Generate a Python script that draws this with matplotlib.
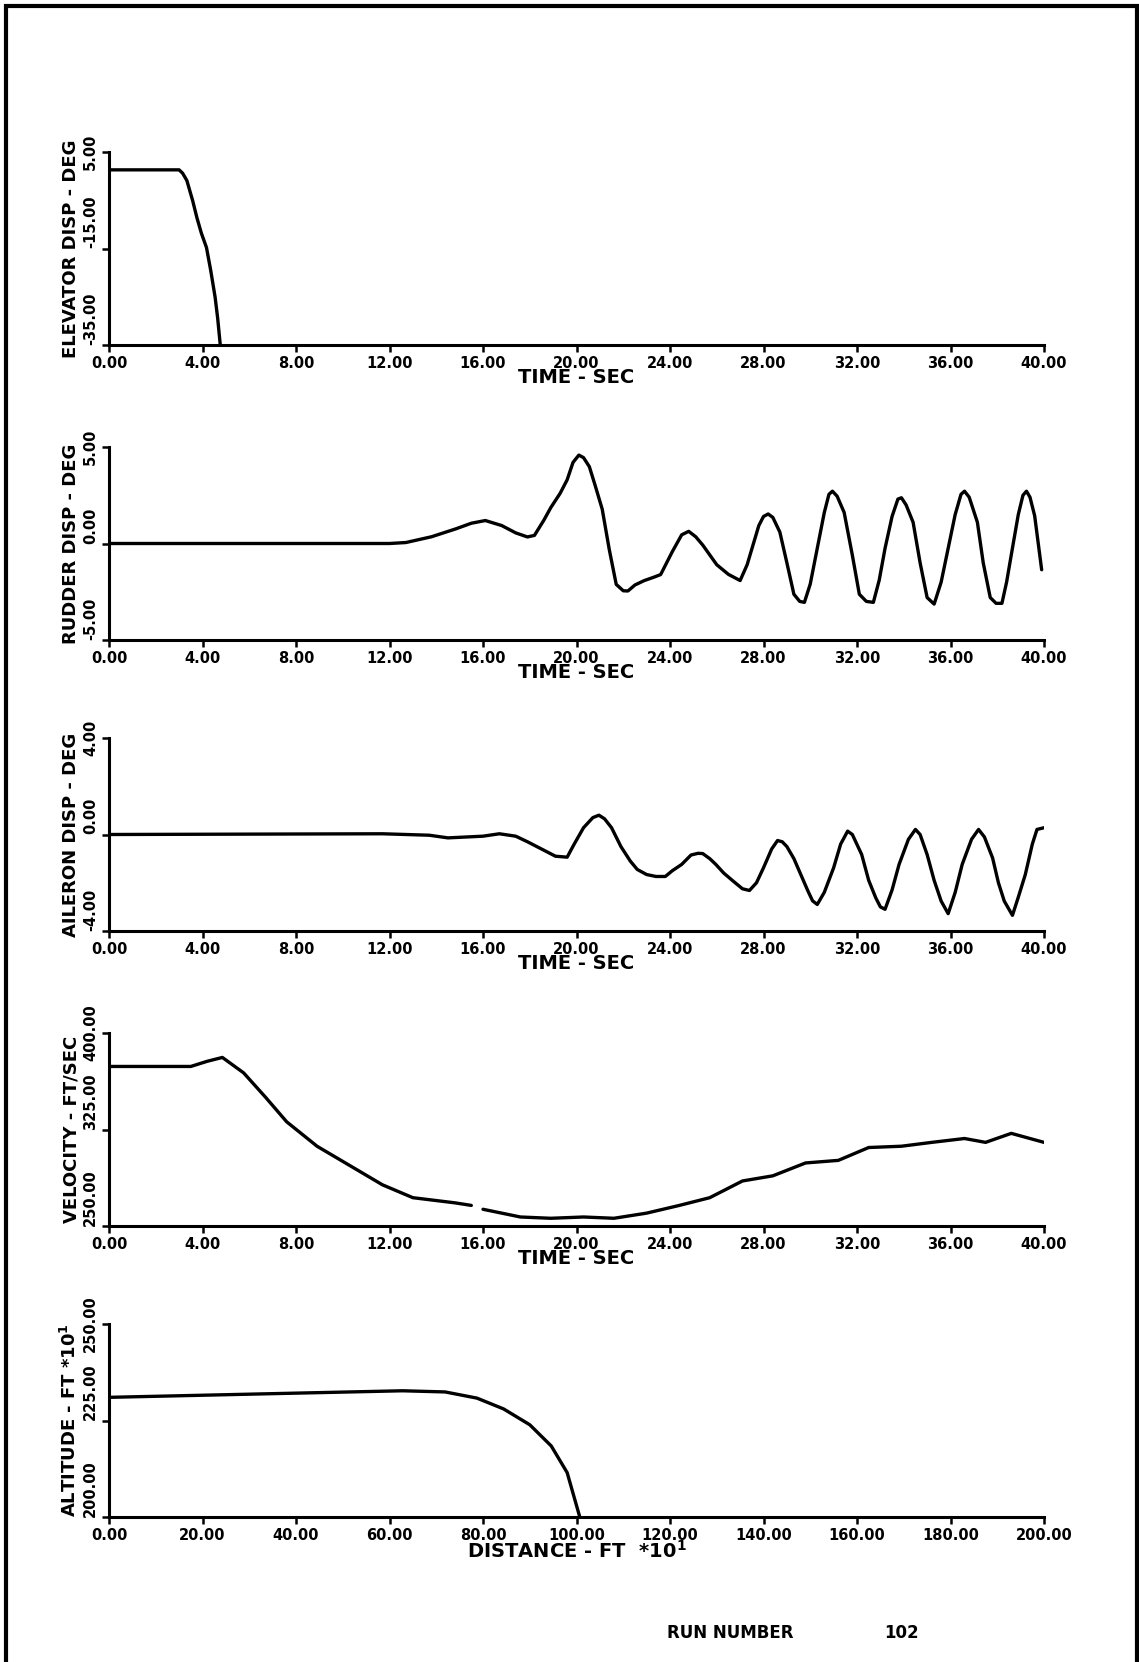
import matplotlib
matplotlib.use("Agg")
import matplotlib.pyplot as plt
import matplotlib.transforms as mtransforms
from matplotlib.patches import Rectangle
import numpy as np

# elevator deflection vs time
elev_t = [0.0, 3.0, 3.15, 3.33, 3.58, 3.76, 3.95, 4.17, 4.35, 4.54, 4.65, 4.76]
elev_y = [1.3, 1.3, 0.6, -0.9, -5.1, -8.6, -11.8, -14.8, -19.5, -25.1, -29.5, -35.0]

# rudder deflection vs time
rud_t = [0.0, 12.0, 12.7, 13.8, 14.84, 15.5, 16.1, 16.8, 17.4, 17.9, 18.2, 18.6, 18.9, 19.3,
         19.6, 19.85, 20.1, 20.3, 20.55, 20.8, 21.1, 21.4, 21.7, 22.0, 22.2, 22.5, 22.9, 23.3,
         23.6, 24.1, 24.5, 24.8, 25.1, 25.4, 26.0, 26.5, 27.0, 27.3, 27.8, 28.0, 28.2, 28.4,
         28.7, 29.0, 29.3, 29.55, 29.75, 30.0, 30.3, 30.6, 30.8, 30.95, 31.15, 31.45, 31.8, 32.1,
         32.4, 32.7, 32.95, 33.2, 33.5, 33.75, 33.9, 34.1, 34.4, 34.7, 35.0, 35.3, 35.6, 35.9,
         36.2, 36.45, 36.6, 36.8, 37.15, 37.4, 37.7, 37.95, 38.2, 38.4, 38.6, 38.9, 39.1, 39.25,
         39.4, 39.6, 39.9]
rud_y = [0.0, 0.0, 0.05, 0.35, 0.76, 1.05, 1.19, 0.93, 0.55, 0.34, 0.42, 1.2, 1.86, 2.6,
         3.3, 4.2, 4.58, 4.45, 3.98, 3.0, 1.78, -0.3, -2.12, -2.45, -2.46, -2.15, -1.92, -1.75,
         -1.61, -0.42, 0.45, 0.63, 0.35, -0.08, -1.10, -1.6, -1.92, -1.10, 0.93, 1.4, 1.53, 1.35,
         0.59, -1.0, -2.63, -3.0, -3.05, -2.1, -0.25, 1.6, 2.55, 2.71, 2.45, 1.61, -0.6, -2.63,
         -3.0, -3.05, -1.9, -0.25, 1.4, 2.3, 2.37, 2.0, 1.10, -1.0, -2.80, -3.14, -2.0, -0.25,
         1.5, 2.55, 2.71, 2.4, 1.10, -1.0, -2.80, -3.1, -3.10, -2.0, -0.59, 1.5, 2.5, 2.71,
         2.4, 1.44, -1.36]

# aileron deflection vs time
ail_t = [0.0, 11.7, 13.7, 14.5, 16.0, 16.7, 17.4, 17.9, 18.4, 19.1, 19.6, 19.9, 20.3, 20.7,
         20.96, 21.2, 21.5, 21.9, 22.3, 22.6, 23.0, 23.4, 23.8, 24.1, 24.5, 24.9, 25.2, 25.4,
         25.7, 25.96, 26.3, 26.7, 27.1, 27.4, 27.7, 28.0, 28.35, 28.6, 28.8, 29.0, 29.3, 29.9,
         30.1, 30.3, 30.6, 31.0, 31.3, 31.6, 31.8, 32.2, 32.5, 32.8, 33.0, 33.2, 33.5, 33.8,
         34.2, 34.5, 34.7, 35.0, 35.3, 35.6, 35.9, 36.2, 36.5, 36.9, 37.2, 37.45, 37.8, 38.05,
         38.3, 38.65, 38.9, 39.2, 39.5, 39.7, 40.0]
ail_y = [0.0, 0.03, -0.03, -0.14, -0.07, 0.03, -0.07, -0.3, -0.55, -0.9, -0.94, -0.4, 0.28, 0.7,
         0.8, 0.65, 0.28, -0.5, -1.1, -1.45, -1.66, -1.74, -1.74, -1.5, -1.24, -0.85, -0.78, -0.79,
         -1.0, -1.24, -1.6, -1.93, -2.25, -2.32, -2.0, -1.38, -0.6, -0.25, -0.3, -0.5, -1.0, -2.34,
         -2.75, -2.90, -2.4, -1.38, -0.4, 0.14, 0.0, -0.83, -1.9, -2.62, -3.0, -3.10, -2.3, -1.24,
         -0.2, 0.21, 0.0, -0.83, -1.9, -2.76, -3.28, -2.4, -1.24, -0.2, 0.21, -0.1, -0.97, -2.0,
         -2.76, -3.35, -2.6, -1.66, -0.4, 0.21, 0.28]

# velocity vs time (the trace has a break near 16 sec)
vel_t = [0.0, 3.5, 4.2, 4.85, 5.76, 6.7, 7.6, 8.9, 10.3, 11.7, 13.0, 14.8, 15.5, 15.7, 16.0,
         17.6, 18.9, 20.3, 21.6, 23.0, 24.4, 25.7, 27.1, 28.4, 29.8, 31.2, 32.5, 33.9, 35.2,
         36.6, 37.5, 38.6, 40.0]
vel_y = [374, 374, 378, 381, 369, 350, 331, 312, 297, 282, 272, 268, 266, np.nan, 263,
         257, 256, 257, 256, 260, 266, 272, 285, 289, 299, 301, 311, 312, 315,
         318, 315, 322, 315]

# altitude vs distance
alt_x = [0.0, 33.0, 62.8, 71.9, 78.7, 84.4, 90.0, 94.6, 98.0, 100.7]
alt_y = [231.0, 231.9, 232.7, 232.4, 230.8, 228.0, 223.9, 218.4, 211.5, 200.0]

time_ticks = list(range(0, 41, 4))
dist_ticks = list(range(0, 201, 20))

panels = [
    (elev_t, elev_y, [-35, -15, 5], time_ticks, "ELEVATOR DISP - DEG", "TIME - SEC"),
    (rud_t, rud_y, [-5, 0, 5], time_ticks, "RUDDER DISP - DEG", "TIME - SEC"),
    (ail_t, ail_y, [-4, 0, 4], time_ticks, "AILERON DISP - DEG", "TIME - SEC"),
    (vel_t, vel_y, [250, 325, 400], time_ticks, "VELOCITY - FT/SEC", "TIME - SEC"),
    (alt_x, alt_y, [200, 225, 250], dist_ticks, "ALTITUDE - FT *10$^1$", "DISTANCE - FT  *10$^1$"),
]

plt.rcParams['font.family'] = ['DejaVu Sans']
plt.rcParams['font.weight'] = 'bold'

W, H = 1139, 1662
fig = plt.figure(figsize=(W / 100, H / 100), dpi=100)

tops = [152, 447, 738, 1033, 1324]
left, right = 109, 1044
ph = 193
shift_down = mtransforms.ScaledTranslation(0, -6 / 100, fig.dpi_scale_trans)

for (x, y, yt, xt, ylab, xlab), top in zip(panels, tops):
    ax = fig.add_axes([left / W, 1 - (top + ph) / H, (right - left) / W, ph / H])
    ax.plot(x, y, color='black', lw=2.4, solid_capstyle='round', solid_joinstyle='round')
    ax.set_xlim(xt[0], xt[-1])
    ax.set_ylim(yt[0], yt[-1])
    ax.set_xticks(xt)
    ax.set_xticklabels(["%.2f" % v for v in xt], fontsize=10.5, fontweight='bold')
    ax.set_yticks(yt)
    ax.set_yticklabels(["%.2f" % v for v in yt], fontsize=10.5, fontweight='bold', rotation=90)
    # lower labels run upward from their tick, the top one is centred on it
    ylabels = ax.get_yticklabels()
    for lab in ylabels[:-1]:
        lab.set_va('bottom')
        lab.set_transform(lab.get_transform() + shift_down)
    ylabels[-1].set_va('center')
    for s in ['top', 'right']:
        ax.spines[s].set_visible(False)
    for s in ['left', 'bottom']:
        ax.spines[s].set_linewidth(2.2)
    ax.tick_params(axis='both', direction='out', length=5, width=1.8, pad=3)
    ax.set_xlabel(xlab, fontsize=14, fontweight='bold', labelpad=-2)
    ax.set_ylabel(ylab, fontsize=13, fontweight='bold', labelpad=2)

fig.text(667 / W, 1 - 1633 / H, "RUN NUMBER", fontsize=12, fontweight='bold',
         ha='left', va='center')
fig.text(884 / W, 1 - 1633 / H, "102", fontsize=12, fontweight='bold',
         ha='left', va='center')

# page frame of the original plot
fig.patches.append(Rectangle((6 / W, -0.02), 1131 / W, 1.02 - 6 / H, transform=fig.transFigure,
                             fill=False, edgecolor='black', linewidth=3))

fig.savefig("out.png", dpi=100, facecolor='white')
